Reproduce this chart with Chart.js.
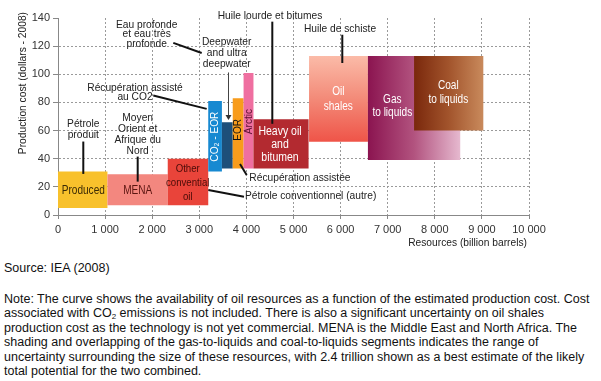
<!DOCTYPE html>
<html><head><meta charset="utf-8">
<script src="https://cdn.jsdelivr.net/npm/chart.js@4"></script>
<style>
html,body{margin:0;padding:0;background:#fff;width:601px;height:381px;overflow:hidden}
#c{position:absolute;left:0;top:0}
#src{position:absolute;left:4px;top:261px;font:12.5px "Liberation Sans",Arial,sans-serif;color:#111;white-space:nowrap}
#note{position:absolute;left:4px;top:292px;font:12.5px/14.4px "Liberation Sans",Arial,sans-serif;color:#111;white-space:nowrap}
sub{font-size:8px;line-height:0;vertical-align:-2px}
</style></head>
<body>
<canvas id="c" width="601" height="250"></canvas>
<div id="src">Source: IEA (2008)</div>
<div id="note">Note: The curve shows the availability of oil resources as a function of the estimated production cost. Cost<br>associated with CO<sub>2</sub> emissions is not included. There is also a significant uncertainty on oil shales<br>production cost as the technology is not yet commercial. MENA is the Middle East and North Africa. The<br>shading and overlapping of the gas-to-liquids and coal-to-liquids segments indicates the range of<br>uncertainty surrounding the size of these resources, with 2.4 trillion shown as a best estimate of the likely<br>total potential for the two combined.</div>
<script>
// ---- data ----
const categories = ["Produced","MENA","Other conventional oil","CO2-EOR","Deepwater and ultra deepwater","EOR","Arctic","Heavy oil and bitumen","Oil shales","Gas to liquids","Coal to liquids"];
const resourceStart = [0, 1050, 2330, 3190, 3480, 3710, 3940, 4150, 5330, 6580, 7560];
const resourceEnd   = [1050, 2330, 3190, 3480, 3710, 3940, 4150, 5320, 6580, 8540, 9030];
const costLow  = [5, 7, 7, 31, 33, 33, 33, 33, 52, 39, 60];
const costHigh = [31, 29, 40, 81, 66, 83, 101, 68, 113, 113, 113];
const xTickValues = [0,1000,2000,3000,4000,5000,6000,7000,8000,9000,10000];
const xTickLabels = ["0","1 000","2 000","3 000","4 000","5 000","6 000","7 000","8 000","9 000","10 000"];
const yTickValues = [0,20,40,60,80,100,120,140];

// ---- styles ----
const solid = ["#f8c12c","#f3877f","#e9443a","#1789d1","#1d4f7a","#f89c1c","#ef6fa0","#b32a30"];
const gradients = {
  8: {dir:"v", stops:["#fbbba8","#f38a78","#ef5448"]},
  9: {dir:"h", stops:["#8b1450","#b2537f","#e6b9cf"]},
  10:{dir:"h", stops:["#7a280c","#a2542c","#c98a5c"]}
};

function fillFor(i){
  return function(c){
    const ch = c.chart, xs = ch.scales.x, ys = ch.scales.y;
    const g = gradients[i];
    if(!g) return solid[i];
    if(!xs || !ys) return g.stops[1];
    let a,b;
    if(g.dir==="h"){a=xs.getPixelForValue(resourceStart[i]);b=xs.getPixelForValue(resourceEnd[i]);}
    else {a=ys.getPixelForValue(costHigh[i]);b=ys.getPixelForValue(costLow[i]);}
    if(!isFinite(a)||!isFinite(b)||a===b) return g.stops[1];
    const grad = g.dir==="h" ? ch.ctx.createLinearGradient(a,0,b,0) : ch.ctx.createLinearGradient(0,a,0,b);
    g.stops.forEach((s,k)=>grad.addColorStop(k/(g.stops.length-1),s));
    return grad;
  };
}

const datasets = categories.map((name,i)=>({
  label:name,
  data:[{x:resourceStart[i],y:costLow[i]},{x:resourceEnd[i],y:costLow[i]},{x:resourceEnd[i],y:costHigh[i]},{x:resourceStart[i],y:costHigh[i]},{x:resourceStart[i],y:costLow[i]}],
  fill:'shape',
  order:categories.length-i,
  backgroundColor:fillFor(i),
  borderWidth:0,
  borderColor:'rgba(0,0,0,0)',
  pointRadius:0,
  tension:0
}));

const FONT = '"Liberation Sans",Arial,sans-serif';

// annotations: text in data coordinates
const texts = [
  {t:["Pétrole","produit"], x:537, y:[64.6,56.7], c:"#222"},
  {t:["Moyen","Orient et","Afrique du","Nord"], x:1692, y:[68.8,61,53.4,45.8], c:"#222"},
  {t:["Récupération assisté","au CO2"], x:1635, y:[90.2,83.8], c:"#222"},
  {t:["Eau profonde","et eau très","profonde"], x:1883, y:[135.2,128.6,121.7], c:"#222"},
  {t:["Deepwater","and ultra","deepwater"], x:3582, y:[123.3,115.5,107.5], c:"#222"},
  {t:["Huile lourde et bitumes"], x:4501, y:[141.1], c:"#222"},
  {t:["Huile de schiste"], x:5987, y:[132.2], c:"#222"},
  {t:["Récupération assistée"], x:4062, y:[26.1], c:"#222", a:"left"},
  {t:["Pétrole conventionnel (autre)"], x:3970, y:[13.5], c:"#222", a:"left"},
  {t:["Produced"], x:537, y:[17.3], c:"#3a2a05", s:12, k:0.84},
  {t:["MENA"], x:1692, y:[17.3], c:"#5a1510", s:12, k:0.84},
  {t:["Other","convential","oil"], x:2754, y:[32.7,23,13], c:"#4a0c08", s:11.5, k:0.84},
  {t:["Heavy oil","and","bitumen"], x:4713, y:[59.3,49.8,40.8], c:"#fff", s:12.5, k:0.84},
  {t:["Oil","shales"], x:5951, y:[87.8,77.1], c:"#fff", s:12, k:0.84},
  {t:["Gas","to liquids"], x:7098, y:[81.9,72.4], c:"#fff", s:12, k:0.84},
  {t:["Coal","to liquids"], x:8287, y:[91.8,82.3], c:"#fff", s:12, k:0.84}
];
const rotated = [
  {t:"CO₂ - EOR", x:3333, y:55.7, c:"#fff"},
  {t:"EOR", x:3822, y:60.5, c:"#111"},
  {t:"Arctic", x:4045, y:66.4, c:"#5a1030"}
];
const leaders = [
  [[537,52.2],[537,29.2]],
  [[1692,41.5],[1692,23.7]],
  [[2023,84.9],[3157,75.4]],
  [[2448,122.3],[3051,115.1]],
  [[4550,137.4],[4550,64.8]],
  [[6036,128.1],[6036,108]],
  [[3864,36.3],[4006,28.5]],
  [[3191,17.8],[3949,13]]
];
const arrow = [[3616,101.3],[3616,67.6]];

function txt(ctx,s,x,y,size,k,align,color,rot){
  ctx.save(); ctx.translate(x,y); if(rot) ctx.rotate(-Math.PI/2); ctx.scale(k,1);
  ctx.font=size+'px '+FONT; ctx.textAlign=align; ctx.textBaseline='middle'; ctx.fillStyle=color;
  ctx.fillText(s,0,0); ctx.restore();
}

const annot = {
  id:'annot',
  afterDraw(chart){
    const ctx = chart.ctx, xs = chart.scales.x, ys = chart.scales.y;
    const X = v=>xs.getPixelForValue(v), Y = v=>ys.getPixelForValue(v);
    ctx.save();
    ctx.strokeStyle = '#111'; ctx.lineWidth = 2; ctx.lineCap='butt';
    leaders.forEach(l=>{ctx.beginPath();ctx.moveTo(X(l[0][0]),Y(l[0][1]));ctx.lineTo(X(l[1][0]),Y(l[1][1]));ctx.stroke();});
    // arrow
    ctx.strokeStyle='#444'; ctx.lineWidth=1;
    const ax = Math.round(X(arrow[0][0]))+0.5, ay1=Y(arrow[0][1]), ay2=Y(arrow[1][1]);
    ctx.beginPath(); ctx.moveTo(ax,ay1); ctx.lineTo(ax,ay2-4); ctx.stroke();
    ctx.fillStyle='#333'; ctx.beginPath(); ctx.moveTo(ax-3,ay2-5); ctx.lineTo(ax+3,ay2-5); ctx.lineTo(ax,ay2); ctx.closePath(); ctx.fill();
    texts.forEach(o=>{
      o.t.forEach((s,j)=>txt(ctx,s,X(o.x),Y(o.y[j]),o.s||11,o.k||0.93,o.a||'center',o.c,false));
    });
    rotated.forEach(o=>txt(ctx,o.t,X(o.x),Y(o.y),11.5,0.88,'center',o.c,true));
    // axis titles
    txt(ctx,'Resources (billion barrels)',527,243,11,0.93,'right','#222',false);
    ctx.font='11px '+FONT;
    const w = ctx.measureText('Production cost (dollars - 2008)').width*0.93;
    txt(ctx,'Production cost (dollars - 2008)',23,12+w/2,11,0.93,'center','#222',true);
    ctx.restore();
  }
};

const chart = new Chart(document.getElementById('c'), {
  type:'line',
  data:{datasets},
  options:{
    responsive:false, animation:false, events:[], devicePixelRatio:1,
    layout:{padding:{top:18,right:72,left:0,bottom:0}},
    plugins:{legend:{display:false},tooltip:{enabled:false}},
    scales:{
      x:{type:'linear',min:0,max:10000,
        afterBuildTicks:s=>{s.ticks=xTickValues.map(v=>({value:v}));},
        afterFit:s=>{s.height=35;},
        ticks:{callback:(v,i)=>xTickLabels[i],maxRotation:0,autoSkip:false,padding:4,color:'#333',font:{family:FONT,size:11}},
        grid:{color:c=>(c.tick&&c.tick.value===0)?'rgba(0,0,0,0)':'#9a9a9a',tickColor:'#888',tickLength:4,lineWidth:1},
        border:{display:true,color:'#888',width:1,dash:[2,2]}
      },
      y:{type:'linear',min:0,max:140,
        afterBuildTicks:s=>{s.ticks=yTickValues.map(v=>({value:v}));},
        afterFit:s=>{s.width=58;},
        ticks:{padding:3,color:'#333',font:{family:FONT,size:11}},
        grid:{color:c=>(c.tick&&(c.tick.value===0||c.tick.value===140))?'rgba(0,0,0,0)':'#9a9a9a',tickColor:'#888',tickLength:5,lineWidth:1},
        border:{display:true,color:'#888',width:1,dash:[2,2]}
      }
    }
  },
  plugins:[annot]
});
chart.update();
</script>
</body></html>
